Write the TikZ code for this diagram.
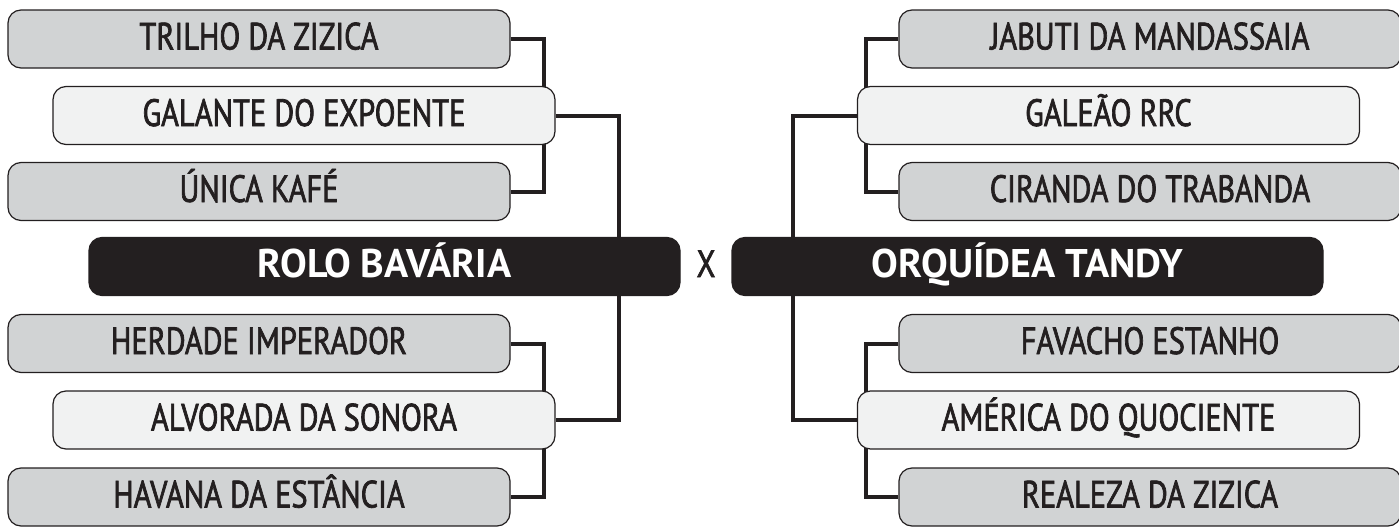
\documentclass[tikz,border=0pt]{standalone}
\usepackage{fontspec}
\newfontfamily\clubfont[FakeBold=1.8, FakeStretch=0.8]{PT Sans}
\newfontfamily\clubheavy{PT Sans Bold}
\usetikzlibrary{backgrounds}
\definecolor{clubInk}{HTML}{231F20}
\definecolor{clubGray}{HTML}{D1D3D4}
\definecolor{clubLight}{HTML}{F1F2F2}
\tikzset{
  bracketfig/.style={x=0.5pt, y=-0.5pt},
  clubbox/.style={
    draw=clubInk, line width=0.6pt, rounded corners=6.5pt,
    minimum width=251pt, minimum height=29pt, inner sep=0pt,
    text height=1.05em, text depth=0pt, text=clubInk,
    font=\clubfont\fontsize{19}{21}\selectfont,
  },
  seedbox/.style={clubbox, fill=clubGray},
  winbox/.style={clubbox, fill=clubLight},
  finalbox/.style={clubbox, fill=clubInk, text=white, minimum width=295.5pt,
    text height=1.1em, font=\clubheavy\fontsize{20}{22}\selectfont},
  link/.style={draw=clubInk, line width=2pt},
}
\begin{document}
\begin{tikzpicture}[bracketfig]
  \useasboundingbox (0,0) rectangle (1399,530);
  % lado esquerdo
  \node[seedbox] (trilho)   at (259,39)    {TRILHO DA ZIZICA};
  \node[winbox]  (galante)  at (304,115.5) {GALANTE DO EXPOENTE};
  \node[seedbox] (unica)    at (259,191.5) {ÚNICA KAFÉ};
  \node[finalbox] (rolo)    at (384.5,266.5) {ROLO BAVÁRIA};
  \node[seedbox] (herdade)  at (259,343.5) {HERDADE IMPERADOR};
  \node[winbox]  (alvorada) at (304,420)   {ALVORADA DA SONORA};
  \node[seedbox] (havana)   at (259,497)   {HAVANA DA ESTÂNCIA};
  \node[text=clubInk, inner sep=0pt, text height=1.05em, text depth=0pt,
    font=\clubfont\fontsize{19}{21}\selectfont] (versus) at (706,266.5) {X};
  % lado direito
  \node[seedbox] (jabuti)   at (1150,39)    {JABUTI DA MANDASSAIA};
  \node[winbox]  (galeao)   at (1108.5,115.5) {GALEÃO RRC};
  \node[seedbox] (ciranda)  at (1150,191.5) {CIRANDA DO TRABANDA};
  \node[finalbox] (orquidea) at (1027.5,266.5) {ORQUÍDEA TANDY};
  \node[seedbox] (favacho)  at (1150,343.5) {FAVACHO ESTANHO};
  \node[winbox]  (america)  at (1108.5,420)  {AMÉRICA DO QUOCIENTE};
  \node[seedbox] (realeza)  at (1150,497)   {REALEZA DA ZIZICA};
  \begin{scope}[on background layer]
    \draw[link] (trilho.east) -- ++(33,0) |- (unica.east);
    \draw[link] (herdade.east) -- ++(33,0) |- (havana.east);
    \draw[link] (galante.east) -- ++(63,0) |- (alvorada.east);
    \draw[link] (jabuti.west) -- ++(-32,0) |- (ciranda.west);
    \draw[link] (favacho.west) -- ++(-32,0) |- (realeza.west);
    \draw[link] (galeao.west) -- ++(-64,0) |- (america.west);
  \end{scope}
\end{tikzpicture}
\end{document}
